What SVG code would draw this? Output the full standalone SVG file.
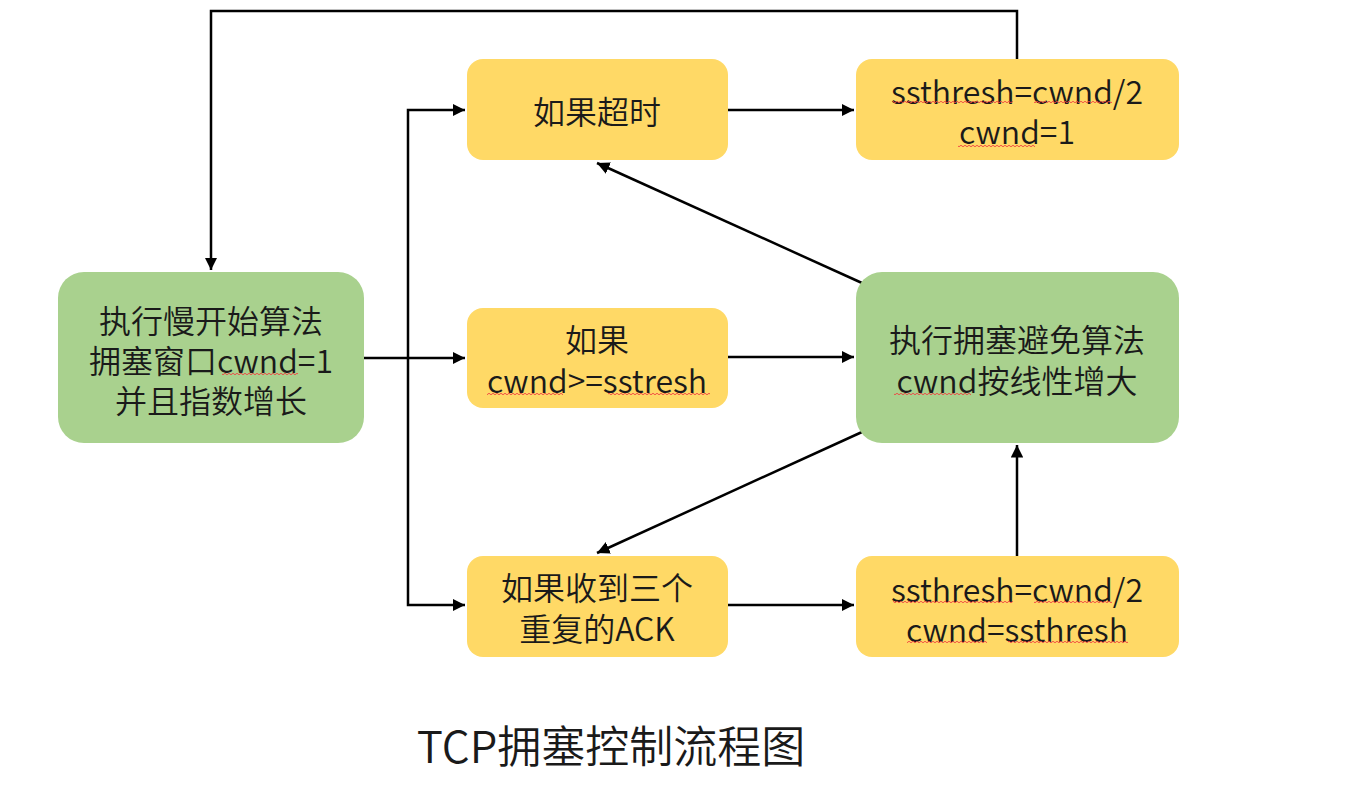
<svg xmlns="http://www.w3.org/2000/svg" width="1346" height="807" viewBox="0 0 1346 807">
<defs>
<style>
.g{fill:#A9D18E}
.y{fill:#FFD966}
.t{font-family:"Noto Sans CJK SC","Noto Sans",sans-serif;font-size:32px;font-weight:350;fill:#1a1a1a;text-anchor:middle;dominant-baseline:central}
.c{fill:none;stroke:#000;stroke-width:2.5}
.title{font-family:"Noto Sans CJK SC","Noto Sans",sans-serif;font-size:44px;font-weight:350;fill:#1a1a1a;text-anchor:middle;dominant-baseline:central}
.sq{fill:url(#w)}
</style>
<marker id="a" viewBox="0 0 10 10" refX="10" refY="5" markerWidth="5" markerHeight="5" orient="auto" markerUnits="strokeWidth">
<path d="M0,0 L10,5 L0,10 z" fill="#000"/>
</marker>
<pattern id="w" x="0" y="0" width="4" height="4" patternUnits="userSpaceOnUse">
<path d="M0,2 Q1,0.5 2,2 T4,2" fill="none" stroke="#F04040" stroke-width="0.9"/>
</pattern>
</defs>
<rect width="1346" height="807" fill="#fff"/>
<g id="connectors">
<path class="c" d="M1017,59 V11 H211 V270" marker-end="url(#a)"/>
<path class="c" d="M364,358 H465" marker-end="url(#a)"/>
<path class="c" d="M408,358 V110 H465" marker-end="url(#a)"/>
<path class="c" d="M408,358 V605 H465" marker-end="url(#a)"/>
<path class="c" d="M728,110 H854" marker-end="url(#a)"/>
<path class="c" d="M728,357 H854" marker-end="url(#a)"/>
<path class="c" d="M862,283 L597,163" marker-end="url(#a)"/>
<path class="c" d="M862,432 L597,553" marker-end="url(#a)"/>
<path class="c" d="M728,605 H854" marker-end="url(#a)"/>
<path class="c" d="M1017,556 V445" marker-end="url(#a)"/>
</g>
<g id="slowstart"><rect class="g" x="58" y="272" width="306" height="171" rx="26"/>
<text class="t" x="211" y="319">执行慢开始算法</text><text class="t" x="211" y="359">拥塞窗口cwnd=1</text><text class="t" x="211" y="399">并且指数增长</text>
<rect class="sq" x="222" y="372" width="76" height="4"/></g>
<g id="timeout"><rect class="y" x="467" y="59" width="261" height="101" rx="16"/>
<text class="t" x="597" y="110">如果超时</text></g>
<g id="cond"><rect class="y" x="467" y="308" width="261" height="100" rx="16"/>
<text class="t" x="597" y="338">如果</text><text class="t" x="597" y="379">cwnd&gt;=sstresh</text>
<rect class="sq" x="487" y="392" width="76" height="4"/><rect class="sq" x="608" y="392" width="102" height="4"/></g>
<g id="dupack"><rect class="y" x="467" y="556" width="261" height="101" rx="16"/>
<text class="t" x="597" y="586">如果收到三个</text><text class="t" x="597" y="627">重复的ACK</text></g>
<g id="reset1"><rect class="y" x="856" y="59" width="323" height="101" rx="16"/>
<text class="t" x="1017" y="90">ssthresh=cwnd/2</text><text class="t" x="1017" y="130">cwnd=1</text>
<rect class="sq" x="893" y="100" width="120" height="4"/><rect class="sq" x="1034" y="100" width="78" height="4"/><rect class="sq" x="958" y="144" width="77" height="4"/></g>
<g id="avoid"><rect class="g" x="856" y="272" width="323" height="171" rx="26"/>
<text class="t" x="1017" y="338">执行拥塞避免算法</text><text class="t" x="1017" y="379">cwnd按线性增大</text>
<rect class="sq" x="894" y="392" width="77" height="4"/></g>
<g id="reset2"><rect class="y" x="856" y="556" width="323" height="101" rx="16"/>
<text class="t" x="1017" y="588">ssthresh=cwnd/2</text><text class="t" x="1017" y="628">cwnd=ssthresh</text>
<rect class="sq" x="893" y="600" width="120" height="4"/><rect class="sq" x="1034" y="600" width="78" height="4"/><rect class="sq" x="907" y="640" width="80" height="4"/><rect class="sq" x="1008" y="640" width="120" height="4"/></g>
<text class="title" x="611" y="744">TCP拥塞控制流程图</text>
</svg>
